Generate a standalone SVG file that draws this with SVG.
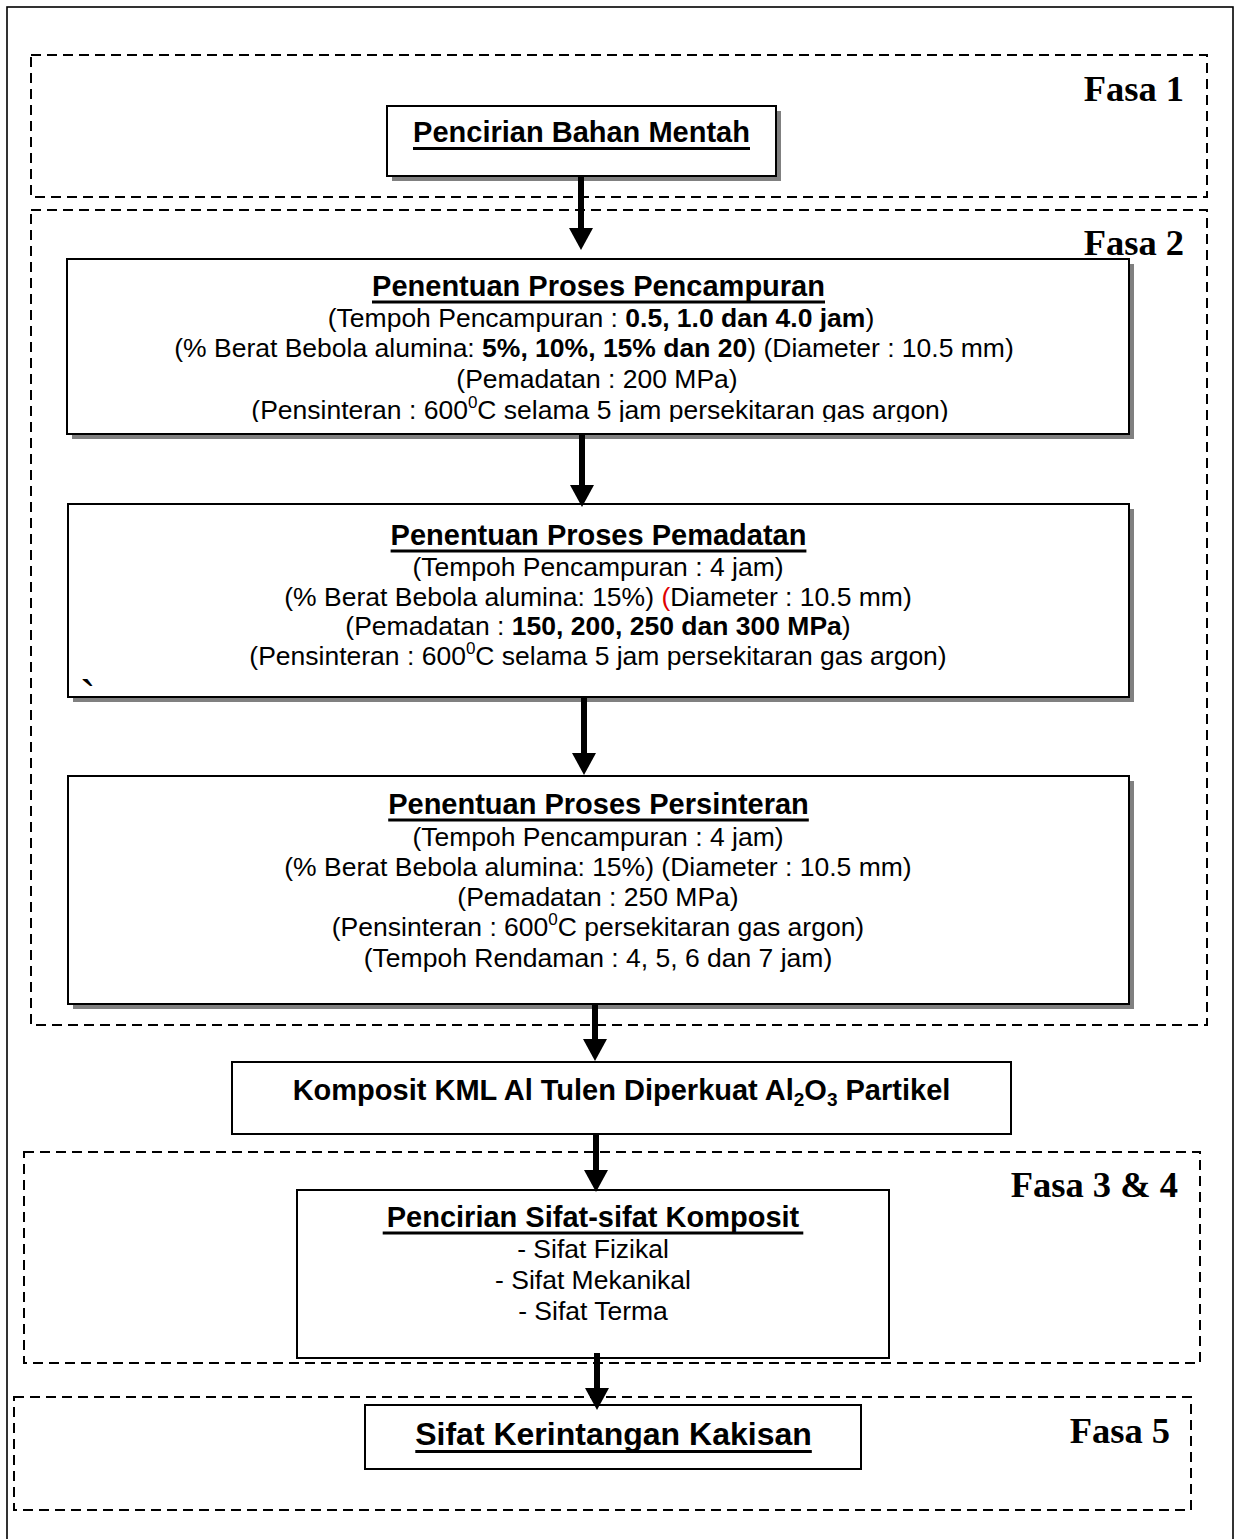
<svg xmlns="http://www.w3.org/2000/svg" width="1239" height="1539" viewBox="0 0 1239 1539">
<style>
.frame{fill:none;stroke:#000;stroke-width:1.6}
.phase{fill:none;stroke:#000;stroke-width:2;stroke-dasharray:10 6}
.box{fill:#fff;stroke:#000;stroke-width:2}
.shadow{fill:#808080}
.t{font-family:"Liberation Sans",Arial,sans-serif;font-size:26.5px;fill:#000;text-anchor:middle}
.h{font-weight:bold;font-size:29px}
.ul{stroke:#000;stroke-width:3}
.b{font-weight:bold}
.sup{font-size:17px}
.fasa{font-family:"Liberation Serif","Times New Roman",serif;font-weight:bold;font-size:36.5px;text-anchor:end;fill:#000}
.conn{stroke:#000;stroke-width:6;fill:none;marker-end:url(#ah)}
</style>
<defs>
<marker id="ah" markerUnits="userSpaceOnUse" markerWidth="24" markerHeight="26" viewBox="0 -13 24 26" refX="0" refY="0" orient="auto">
<path d="M0,-12 L22,0 L0,12 Z" fill="#000"/>
</marker>
<clipPath id="c1"><rect x="60" y="259" width="1080" height="163"/></clipPath>
</defs>
<rect class="frame" x="7" y="7" width="1226" height="1545"/>
<g id="phases">
<rect class="phase" x="31" y="55" width="1176" height="142"/>
<rect class="phase" x="31" y="210" width="1176" height="815"/>
<rect class="phase" x="24" y="1152" width="1176" height="211"/>
<rect class="phase" x="14" y="1397" width="1177" height="113"/>
<text class="fasa" x="1184" y="101">Fasa 1</text>
<text class="fasa" x="1184" y="255">Fasa 2</text>
<text class="fasa" x="1178" y="1197">Fasa 3 &amp; 4</text>
<text class="fasa" x="1170" y="1443">Fasa 5</text>
</g>
<g id="n-bahan">
<rect class="shadow" x="392" y="111" width="389" height="70"/>
<rect class="box" x="387" y="106" width="389" height="70"/>
<text class="t h" x="581.5" y="142">Pencirian Bahan Mentah</text>
<line class="ul" x1="413" y1="148.5" x2="750" y2="148.5"/>
</g>
<g id="n-pencampuran">
<rect class="shadow" x="72" y="264" width="1062" height="175"/>
<rect class="box" x="67" y="259" width="1062" height="175"/>
<text class="t h" x="598.5" y="296">Penentuan Proses Pencampuran</text>
<line class="ul" x1="372" y1="302" x2="825" y2="302"/>
<text class="t" x="601" y="327">(Tempoh Pencampuran : <tspan class="b">0.5, 1.0 dan 4.0 jam</tspan>)</text>
<text class="t" x="594" y="357">(% Berat Bebola alumina: <tspan class="b">5%, 10%, 15% dan 20</tspan>) (Diameter : 10.5 mm)</text>
<text class="t" x="597" y="388">(Pemadatan : 200 MPa)</text>
<text class="t" x="600" y="419" clip-path="url(#c1)">(Pensinteran : 600<tspan class="sup" dy="-11">0</tspan><tspan dy="11">C selama 5 jam persekitaran gas argon)</tspan></text>
</g>
<g id="n-pemadatan">
<rect class="shadow" x="73" y="509" width="1061" height="193"/>
<rect class="box" x="68" y="504" width="1061" height="193"/>
<text class="t h" x="598.5" y="545">Penentuan Proses Pemadatan</text>
<line class="ul" x1="390.6" y1="551" x2="806.4" y2="551"/>
<text class="t" x="598" y="576">(Tempoh Pencampuran : 4 jam)</text>
<text class="t" x="598" y="606">(% Berat Bebola alumina: 15%) <tspan fill="#e00000">(</tspan>Diameter : 10.5 mm)</text>
<text class="t" x="598" y="635">(Pemadatan : <tspan class="b">150, 200, 250 dan 300 MPa</tspan>)</text>
<text class="t" x="598" y="665">(Pensinteran : 600<tspan class="sup" dy="-11">0</tspan><tspan dy="11">C selama 5 jam persekitaran gas argon)</tspan></text>
<text class="t" x="88" y="713" style="font-size:46px">`</text>
</g>
<g id="n-persinteran">
<rect class="shadow" x="73" y="781" width="1061" height="228"/>
<rect class="box" x="68" y="776" width="1061" height="228"/>
<text class="t h" x="598.5" y="814">Penentuan Proses Persinteran</text>
<line class="ul" x1="388.2" y1="820" x2="808.8" y2="820"/>
<text class="t" x="598" y="846">(Tempoh Pencampuran : 4 jam)</text>
<text class="t" x="598" y="876">(% Berat Bebola alumina: 15%) (Diameter : 10.5 mm)</text>
<text class="t" x="598" y="906">(Pemadatan : 250 MPa)</text>
<text class="t" x="598" y="936">(Pensinteran : 600<tspan class="sup" dy="-11">0</tspan><tspan dy="11">C persekitaran gas argon)</tspan></text>
<text class="t" x="598" y="967">(Tempoh Rendaman : 4, 5, 6 dan 7 jam)</text>
</g>
<g id="n-komposit">
<rect class="box" x="232" y="1062" width="779" height="72"/>
<text class="t b" x="621.5" y="1100" style="font-size:29px">Komposit KML Al Tulen Diperkuat Al<tspan style="font-size:19px" dy="6">2</tspan><tspan dy="-6">O</tspan><tspan style="font-size:19px" dy="6">3</tspan><tspan dy="-6"> Partikel</tspan></text>
</g>
<g id="n-sifat">
<rect class="box" x="297" y="1190" width="592" height="168"/>
<text class="t h" x="593" y="1227">Pencirian Sifat-sifat  Komposit</text>
<line class="ul" x1="382.7" y1="1233" x2="803.3" y2="1233"/>
<text class="t" x="593" y="1258">- Sifat Fizikal</text>
<text class="t" x="593" y="1289">- Sifat Mekanikal</text>
<text class="t" x="593" y="1320">- Sifat Terma</text>
</g>
<g id="n-kakisan">
<rect class="box" x="365" y="1405" width="496" height="64"/>
<text class="t h" x="613.5" y="1445" style="font-size:32px">Sifat Kerintangan Kakisan</text>
<line class="ul" x1="415.3" y1="1451.5" x2="811.8" y2="1451.5"/>
</g>
<g id="connectors">
<line class="conn" x1="581" y1="176" x2="581" y2="228"/>
<line class="conn" x1="582" y1="434" x2="582" y2="485"/>
<line class="conn" x1="584" y1="697" x2="584" y2="753"/>
<line class="conn" x1="595" y1="1004" x2="595" y2="1039"/>
<line class="conn" x1="596" y1="1134" x2="596" y2="1170"/>
<line class="conn" x1="597" y1="1353" x2="597" y2="1388"/>
</g>
</svg>
